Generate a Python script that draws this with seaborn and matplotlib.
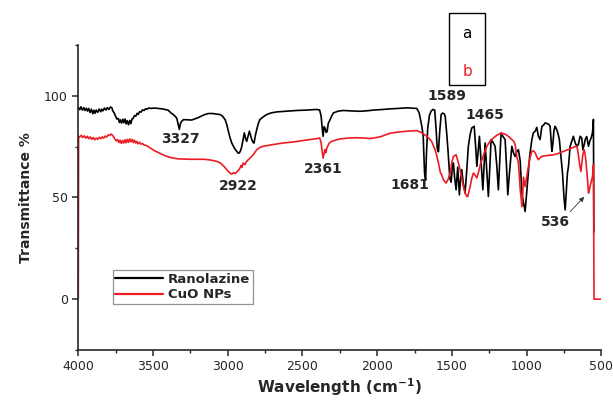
import numpy as np
import pandas as pd
import matplotlib
matplotlib.use("Agg")
import matplotlib.pyplot as plt
from matplotlib.ticker import MultipleLocator
from matplotlib.patches import Rectangle
import seaborn as sns

# Ranolazine spectrum (wavenumber, transmittance)
rano_wn = [4000, 3990, 3982, 3972, 3963, 3955, 3946, 3938, 3930, 3921, 3912, 3903,
           3895, 3888, 3880, 3870, 3860, 3850, 3843, 3835, 3825, 3815, 3805, 3795,
           3785, 3776, 3768, 3760, 3750, 3742, 3732, 3725, 3718, 3710, 3702, 3695,
           3687, 3680, 3672, 3664, 3655, 3648, 3640, 3632, 3624, 3615, 3606, 3598,
           3590, 3580, 3570, 3560, 3550, 3540, 3530, 3510, 3490, 3465, 3440, 3420,
           3398, 3380, 3364, 3350, 3341, 3332, 3324, 3316, 3308, 3295, 3270, 3241,
           3220, 3197, 3160, 3130, 3100, 3075, 3052, 3035, 3018, 3005, 2996, 2985,
           2973, 2955, 2940, 2930, 2922, 2912, 2906, 2897, 2889, 2880, 2873, 2864,
           2855, 2847, 2839, 2830, 2824, 2815, 2806, 2795, 2784, 2760, 2739, 2710,
           2672, 2600, 2538, 2470, 2404, 2385, 2375, 2369, 2362, 2355, 2349, 2341,
           2335, 2327, 2320, 2305, 2293, 2260, 2226, 2180, 2114, 2060, 2025, 1960,
           1914, 1860, 1802, 1760, 1735, 1720, 1713, 1700, 1692, 1683, 1676, 1670,
           1662, 1650, 1640, 1628, 1615, 1606, 1598, 1590, 1582, 1572, 1563, 1552,
           1545, 1535, 1526, 1514, 1505, 1496, 1490, 1482, 1472, 1466, 1461, 1455,
           1450, 1443, 1434, 1424, 1412, 1402, 1390, 1378, 1367, 1351, 1342, 1333,
           1324, 1316, 1305, 1293, 1285, 1278, 1267, 1256, 1246, 1238, 1224, 1211,
           1200, 1189, 1180, 1171, 1158, 1144, 1135, 1126, 1115, 1099, 1088, 1077,
           1066, 1055, 1043, 1032, 1020, 1010, 1000, 992, 980, 965, 955, 943,
           932, 921, 910, 898, 888, 876, 865, 852, 843, 831, 825, 817,
           810, 803, 792, 781, 770, 760, 750, 742, 735, 727, 720, 709,
           698, 687, 676, 664, 654, 642, 631, 624, 615, 608, 598, 586,
           576, 568, 559, 553, 550]
rano_t = [94.3, 93.2, 94.6, 93.0, 94.2, 92.8, 93.9, 92.5, 93.8, 91.8, 93.4, 91.2,
          92.9, 91.4, 93.0, 91.9, 93.5, 92.2, 93.4, 92.6, 94.0, 93.0, 94.2, 93.3,
          94.5, 94.2, 92.5, 91.6, 90.0, 88.6, 88.8, 86.9, 88.2, 86.6, 88.5, 86.8,
          88.6, 86.2, 87.8, 85.8, 87.9, 86.3, 88.7, 89.0, 90.3, 90.0, 91.4, 90.9,
          92.2, 92.0, 93.1, 92.8, 93.6, 93.4, 94.0, 93.8, 94.0, 93.8, 93.6, 93.3,
          92.9, 91.6, 90.8, 89.8, 89.0, 86.0, 83.5, 86.5, 87.5, 88.3, 88.2, 88.1,
          88.7, 89.3, 90.6, 91.3, 91.3, 91.0, 90.8, 90.0, 88.4, 85.5, 82.6, 79.5,
          76.8, 74.2, 72.7, 71.8, 71.9, 73.5, 75.2, 78.5, 81.8, 78.8, 77.6, 80.0,
          82.6, 80.6, 78.5, 77.0, 76.8, 80.5, 83.4, 86.5, 88.4, 89.8, 90.8, 91.6,
          92.1, 92.5, 92.8, 93.0, 93.3, 93.0, 90.0, 85.0, 80.1, 84.8, 84.2, 82.0,
          82.5, 86.5, 87.5, 90.0, 91.6, 92.5, 92.8, 92.6, 92.4, 92.7, 93.0, 93.3,
          93.6, 93.8, 94.1, 93.9, 93.8, 91.8, 89.5, 84.5, 80.0, 62.0, 58.5, 72.0,
          84.0, 90.5, 92.3, 93.3, 93.0, 84.0, 74.0, 72.5, 82.0, 90.8, 91.5, 91.2,
          90.0, 81.8, 73.0, 59.5, 57.5, 66.0, 67.0, 60.0, 53.8, 60.0, 65.0, 58.0,
          51.3, 58.0, 63.7, 57.0, 52.2, 62.0, 75.2, 81.0, 84.2, 85.0, 76.0, 65.3,
          73.0, 80.1, 68.0, 53.8, 65.0, 76.8, 64.0, 50.5, 65.0, 78.5, 77.0, 75.2,
          66.0, 53.8, 68.0, 81.8, 80.0, 78.5, 66.0, 51.3, 62.0, 75.2, 72.0, 70.2,
          72.5, 73.5, 68.0, 52.2, 47.0, 43.1, 52.0, 58.7, 70.0, 78.5, 81.8, 82.6,
          84.5, 80.0, 78.5, 85.0, 85.5, 86.7, 86.4, 86.0, 85.0, 72.7, 76.0, 83.0,
          85.0, 84.2, 82.0, 78.5, 70.0, 62.0, 50.0, 43.9, 52.0, 62.0, 65.3, 75.2,
          77.6, 80.1, 77.0, 75.2, 76.0, 80.1, 79.2, 73.5, 76.0, 78.5, 80.0, 75.2,
          78.0, 79.3, 82.0, 88.4, 33.0]

# CuO NPs spectrum
cuo_wn = [4000, 3998, 3990, 3980, 3970, 3960, 3950, 3940, 3930, 3920, 3910, 3900,
          3890, 3880, 3870, 3860, 3850, 3840, 3830, 3820, 3810, 3800, 3790, 3780,
          3772, 3765, 3755, 3745, 3736, 3728, 3720, 3712, 3704, 3696, 3688, 3680,
          3672, 3664, 3656, 3648, 3640, 3632, 3624, 3616, 3608, 3600, 3590, 3580,
          3570, 3560, 3545, 3530, 3510, 3490, 3470, 3450, 3430, 3410, 3390, 3364,
          3330, 3290, 3250, 3200, 3163, 3120, 3074, 3050, 3029, 3012, 2996, 2985,
          2973, 2960, 2950, 2940, 2930, 2918, 2910, 2905, 2896, 2885, 2873, 2862,
          2851, 2840, 2829, 2818, 2806, 2785, 2762, 2700, 2630, 2561, 2480, 2400,
          2385, 2375, 2369, 2362, 2356, 2350, 2344, 2336, 2320, 2304, 2275, 2248,
          2200, 2150, 2100, 2048, 1981, 1914, 1860, 1802, 1760, 1735, 1713, 1701,
          1685, 1668, 1646, 1635, 1613, 1601, 1590, 1578, 1568, 1555, 1539, 1525,
          1512, 1500, 1490, 1472, 1462, 1450, 1437, 1423, 1410, 1400, 1394, 1378,
          1367, 1356, 1345, 1333, 1320, 1307, 1285, 1266, 1245, 1222, 1200, 1177,
          1157, 1137, 1118, 1099, 1085, 1077, 1066, 1055, 1048, 1043, 1037, 1032,
          1026, 1021, 1015, 1010, 1000, 988, 976, 965, 955, 943, 932, 921,
          910, 898, 870, 840, 820, 790, 753, 720, 698, 675, 664, 659,
          654, 645, 637, 630, 624, 615, 608, 602, 594, 586, 578, 570,
          559, 553, 549, 500]
cuo_t = [0.0, 80.0, 79.8, 80.6, 79.5, 80.3, 79.2, 80.1, 78.9, 79.8, 78.6, 79.5,
         78.4, 79.2, 78.6, 79.6, 78.9, 79.8, 79.2, 80.2, 79.7, 80.8, 80.5, 81.2,
         80.7, 80.0, 78.8, 77.8, 78.5, 77.0, 78.2, 76.6, 78.0, 76.8, 78.4, 76.9,
         78.6, 77.2, 78.8, 77.4, 78.6, 77.0, 78.2, 76.8, 77.6, 76.4, 77.2, 76.2,
         76.5, 75.8, 75.6, 74.9, 74.0, 73.0, 72.3, 71.6, 70.9, 70.3, 69.8, 69.4,
         69.0, 68.9, 68.8, 68.8, 68.8, 68.5, 67.8, 67.0, 65.6, 64.2, 62.8, 62.0,
         61.5, 62.2, 61.8, 62.5, 63.2, 64.5, 65.8, 64.8, 67.0, 66.2, 67.8, 68.6,
         69.4, 70.2, 71.1, 72.2, 73.5, 74.6, 75.2, 76.0, 76.8, 77.3, 78.2, 79.0,
         79.3, 77.0, 73.0, 69.4, 71.5, 73.5, 72.0, 74.5, 76.8, 77.6, 78.3, 78.8,
         79.2, 79.4, 79.3, 79.0, 79.8, 81.6, 82.2, 82.6, 82.8, 82.9, 82.2, 81.8,
         81.0, 80.1, 78.5, 77.5, 73.5, 70.5, 67.0, 62.5, 61.0, 58.5, 57.1, 59.0,
         62.0, 67.5, 70.2, 71.0, 68.5, 65.3, 60.5, 55.4, 52.0, 50.5, 50.5, 55.4,
         59.5, 62.0, 61.0, 59.6, 63.0, 67.0, 71.5, 75.2, 77.6, 79.3, 80.6, 81.4,
         81.5, 80.9, 79.8, 78.5, 77.5, 76.0, 70.2, 67.0, 60.0, 54.0, 50.0, 45.6,
         52.0, 60.0, 57.5, 55.4, 60.0, 65.3, 70.0, 72.7, 73.0, 72.0, 70.0, 68.6,
         69.5, 70.2, 70.6, 70.8, 71.0, 71.6, 72.7, 73.6, 74.4, 75.0, 75.2, 73.5,
         71.0, 66.0, 62.8, 67.0, 71.0, 73.5, 71.0, 67.0, 60.0, 52.2, 54.5, 57.1,
         60.4, 66.1, 0.0, 0.0]

series_names = ["Ranolazine", "CuO NPs"]
peak_labels = ["3327", "2922", "2361", "1681", "1589", "1465", "536"]
peak_x = [3319, 2931, 2362, 1780, 1532, 1278, 810]
peak_y = [79.0, 55.8, 64.2, 56.3, 99.7, 90.8, 38.0]

red = "#ed1c24"

df = pd.concat([
    pd.DataFrame({"wn": rano_wn, "T": rano_t, "sample": series_names[0]}),
    pd.DataFrame({"wn": cuo_wn, "T": cuo_t, "sample": series_names[1]}),
], ignore_index=True)

sns.set_style("ticks")
plt.rcParams["font.family"] = ["DejaVu Sans"]
plt.rcParams["mathtext.default"] = "bf"

fig = plt.figure(figsize=(6.13, 4.0), dpi=100)
ax = fig.add_axes([0.1277, 0.125, 0.8533, 0.7625])

sns.lineplot(data=df, x="wn", y="T", hue="sample", palette=["black", red],
             estimator=None, sort=False, linewidth=1.2, ax=ax)

ax.set_xlim(4000, 500)
ax.set_ylim(-25, 125)
ax.xaxis.set_major_locator(MultipleLocator(500))
ax.xaxis.set_minor_locator(MultipleLocator(250))
ax.yaxis.set_major_locator(MultipleLocator(50))
ax.yaxis.set_minor_locator(MultipleLocator(25))
ax.tick_params(which="major", direction="out", length=4, width=1.1, labelsize=9)
ax.tick_params(which="minor", direction="out", length=2.5, width=1.0)
sns.despine(ax=ax, top=True, right=True)
for s in ["left", "bottom"]:
    ax.spines[s].set_linewidth(1.2)

ax.set_xlabel("Wavelength (cm$^{-1}$)", fontsize=11, fontweight="bold", labelpad=2)
ax.set_ylabel("Transmittance %", fontsize=10, fontweight="bold", labelpad=8)

# peak labels
for lab, px, py in zip(peak_labels, peak_x, peak_y):
    ax.text(px, py, lab, ha="center", va="center", fontsize=10, fontweight="bold")
ax.annotate("", xy=(602, 51.3), xytext=(722, 42),
            arrowprops=dict(arrowstyle="-|>", color="#333333", lw=0.6, mutation_scale=7))

leg = ax.legend(loc="lower left", bbox_to_anchor=(0.066, 0.151), borderaxespad=0,
                fancybox=False, edgecolor="#777777", handlelength=3.6,
                prop={"weight": "bold", "size": 9.5}, borderpad=0.2,
                labelspacing=0.2, handletextpad=0.4)
leg.get_frame().set_linewidth(0.9)
for ln in leg.get_lines():
    ln.set_linewidth(1.6)

# a / b box
fig.patches.append(Rectangle((0.7325, 0.7875), 0.0585, 0.18, transform=fig.transFigure,
                             fill=False, edgecolor="black", linewidth=1.0))
fig.text(0.762, 0.917, "a", ha="center", va="center", fontsize=11, color="black")
fig.text(0.762, 0.82, "b", ha="center", va="center", fontsize=11, color=red)

fig.savefig("out.png", dpi=100)
